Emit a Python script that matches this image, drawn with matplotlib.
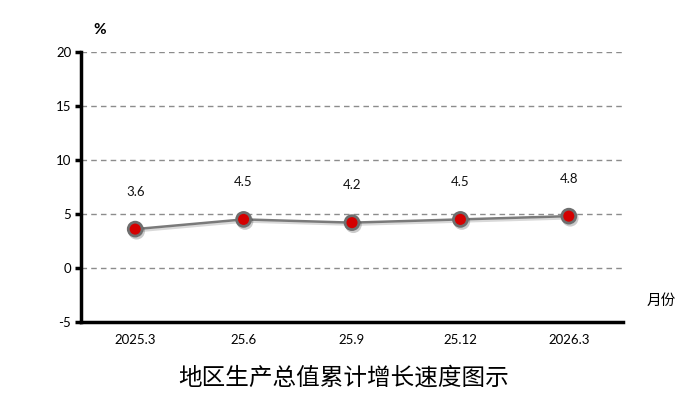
import matplotlib
matplotlib.use("Agg")
import matplotlib.pyplot as plt
import matplotlib.patheffects as pe

plt.rcParams['font.family'] = ['Lato', 'Noto Sans CJK SC', 'DejaVu Sans']
plt.rcParams['axes.unicode_minus'] = False

categories = ["2025.3", "25.6", "25.9", "25.12", "2026.3"]
values = [3.6, 4.5, 4.2, 4.5, 4.8]
yticks = [-5, 0, 5, 10, 15, 20]
title = "地区生产总值累计增长速度图示"

fig = plt.figure(figsize=(6.98, 4.08), dpi=100)
ax = fig.add_axes([81/698, 1-322/408, (623-81)/698, (322-52)/408])

x = list(range(len(categories)))
ax.plot(x, values, color="#7a7a7a", lw=1.8, zorder=3,
        path_effects=[pe.SimpleLineShadow(offset=(1, -1.5), alpha=0.15), pe.Normal()])
ax.plot(x, values, ls="none", marker="o", ms=10, mfc="#d40000", mec="#6e6e6e", mew=2, zorder=4,
        path_effects=[pe.SimpleLineShadow(offset=(1, -1.5), alpha=0.2), pe.Normal()])
for xi, v in zip(x, values):
    ax.annotate(f"{v}", (xi, v), xytext=(0, 27), textcoords="offset points",
                ha="center", va="center", fontsize=9.5, color="#111111")

ax.set_xlim(-0.5, len(categories) - 0.5)
ax.set_ylim(-5, 20)
ax.set_yticks(yticks)
ax.set_xticks(x)
ax.set_xticklabels(categories)
for t in yticks[1:]:
    ax.axhline(t, color="#8c8c8c", lw=1, ls=(0, (4, 3)), zorder=1)

for s in ["top", "right"]:
    ax.spines[s].set_visible(False)
ax.spines["left"].set_linewidth(2.5)
ax.spines["bottom"].set_linewidth(2.5)
ax.tick_params(axis="y", length=4, width=2.5, labelsize=9.5, pad=3)
ax.tick_params(axis="x", length=0, labelsize=9.5, pad=9)

fig.text(100/698, 1-30/408, "%", ha="center", va="center", fontsize=11, fontweight="bold")
fig.text(661/698, 1-301/408, "月份", ha="center", va="center", fontsize=10.5,
         family=['Noto Sans CJK SC', 'DejaVu Sans'])
fig.text(344/698, 1-378/408, title, ha="center", va="center", fontsize=17,
         family=['Noto Sans CJK SC', 'DejaVu Sans'])

fig.savefig("out.png", dpi=100)
